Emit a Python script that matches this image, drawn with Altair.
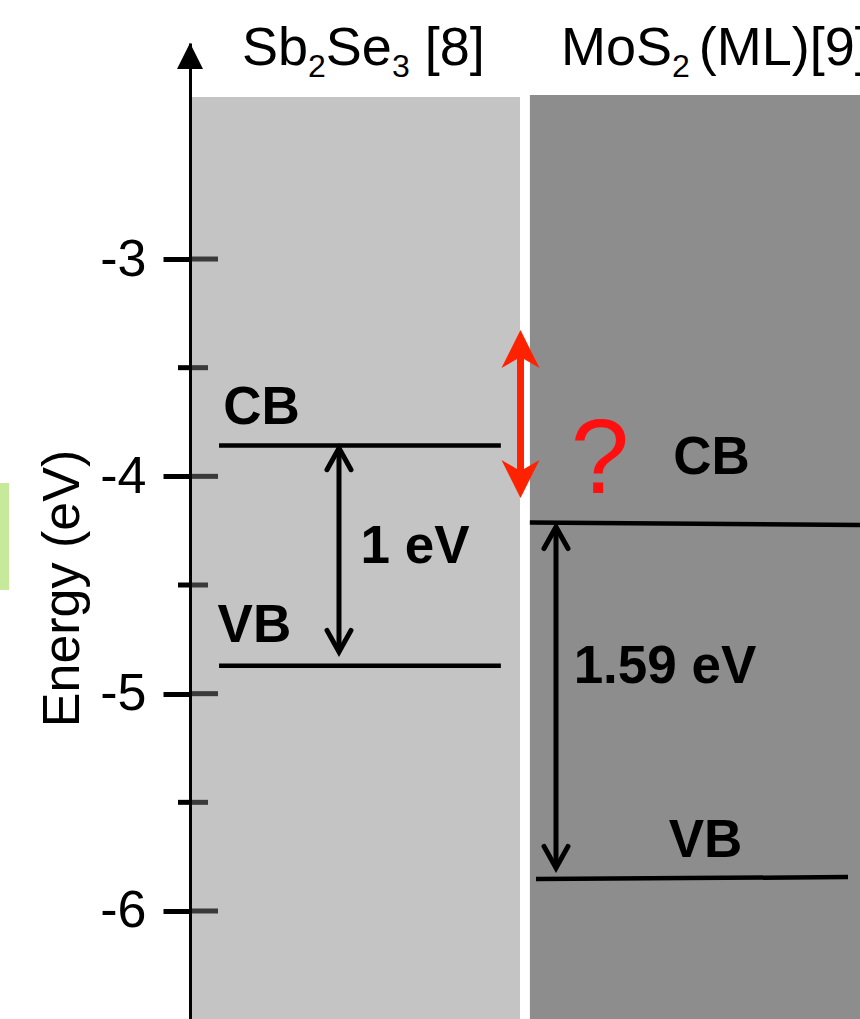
import altair as alt
import pandas as pd

# ---------------- data ----------------
panel_names = ["Sb2Se3", "MoS2"]
panel_top = [-2.255, -2.245]
panel_colors = ["#c4c4c4", "#8d8d8d"]

band_kind = ["CB", "VB", "CB", "VB"]
band_e_left = [-3.858, -4.871, -4.212, -5.853]
band_e_right = [-3.858, -4.871, -4.224, -5.844]

gap_labels = ["1 eV", "1.59 eV"]
gap_top = [-3.870, -4.233]
gap_bottom = [-4.808, -5.802]

offset_top = -3.327
offset_bottom = -4.100
question_text = "?"

major_ticks = [-3, -4, -5, -6]
minor_ticks = [-3.5, -4.5, -5.5]

highlight_top = -4.031
highlight_bottom = -4.523

title_parts = [
    [("Sb", "main"), ("2", "sub"), ("Se", "main"), ("3", "sub"), (" [8]", "main")],
    [("MoS", "main"), ("2 ", "sub"), ("(ML)[9]", "main")],
]

y_min, y_max = -6.497, -2.006

# ---------------- layout ----------------
W, H = 670, 976
PAD_L, PAD_T = 190, 43
UNIT = 330.0                      # px per panel-width unit
x_max = W / UNIT
ppe = H / (y_max - y_min)         # px per eV

panel_x0 = [0.0, 1.03]
panel_x1 = [1.0, x_max]
band_x0 = [0.088, 0.088, 1.03, 1.0485]
band_x1 = [0.942, 0.942, x_max, 1.994]
band_label_x = [0.2167, 0.195, 1.5803, 1.5621]
band_label_y = [-3.759, -4.762, -3.989, -5.752]
gap_x = [0.4515, 1.1091]
gap_label_x = [0.682, 1.4394]
gap_label_y = [-4.399, -4.951]
offset_x = 1.0015
question_x, question_y = 1.2424, -4.077
title_x0 = [0.1576, 1.1242]
title_base = {"main": -2.1074, "sub": -2.1626}
title_size = {"main": 54, "sub": 32}
highlight_x = [-190 / UNIT, -181 / UNIT]

FONT = "Liberation Sans"
RED = "#ff2200"

xscale = alt.Scale(domain=[0, x_max], nice=False, zero=False)
yscale = alt.Scale(domain=[y_min, y_max], nice=False, zero=False)
yaxis = alt.Axis(
    values=major_ticks, labelExpr="'-' + abs(datum.value)",
    labelFont=FONT, labelFontSize=52, labelColor="black", labelPadding=17,
    ticks=True, tickSize=27, tickWidth=5, tickColor="black",
    domain=True, domainColor="black", domainWidth=3, grid=False,
    title="Energy (eV)", titleFont=FONT, titleFontSize=52, titleFontWeight="normal",
    titleColor="black", titleAngle=270, titleAlign="center", titleBaseline="alphabetic",
    titleX=-112, titleY=545, zindex=1,
)

def X(f="x"):
    return alt.X(f"{f}:Q", scale=xscale, axis=None)

def Y(f="y"):
    return alt.Y(f"{f}:Q", scale=yscale, axis=yaxis, title="Energy (eV)")

# highlight strip at far left
hl = pd.DataFrame({"x": [highlight_x[0]], "x2": [highlight_x[1]],
                   "y": [highlight_top], "y2": [highlight_bottom]})
hl_layer = alt.Chart(hl).mark_rect(color="#c7e99c").encode(
    x=X(), x2="x2", y=Y(), y2="y2")

# panels
pn = pd.DataFrame({"x": panel_x0, "x2": panel_x1, "y": panel_top,
                   "y2": [y_min, y_min], "c": panel_colors, "name": panel_names})
panel_layer = alt.Chart(pn).mark_rect().encode(
    x=X(), x2="x2", y=Y(), y2="y2", color=alt.Color("c:N", scale=None))

# inner parts of ticks
tk = pd.DataFrame({
    "x": [0.0] * len(major_ticks) + [-12 / UNIT] * len(minor_ticks) + [0.0] * len(minor_ticks),
    "x2": [28 / UNIT] * len(major_ticks) + [0.0] * len(minor_ticks) + [18 / UNIT] * len(minor_ticks),
    "y": major_ticks + minor_ticks + minor_ticks,
    "c": ["#3a3a3a"] * len(major_ticks) + ["black"] * len(minor_ticks) + ["#3a3a3a"] * len(minor_ticks),
})
tick_layer = alt.Chart(tk).mark_rule(strokeWidth=5).encode(
    x=X(), x2="x2", y=Y(), color=alt.Color("c:N", scale=None))

# band edges
bd = pd.DataFrame({"x": band_x0, "x2": band_x1, "y": band_e_left, "y2": band_e_right,
                   "kind": band_kind})
band_layer = alt.Chart(bd).mark_rule(strokeWidth=4.5, color="black").encode(
    x=X(), x2="x2", y=Y(), y2="y2")

# band labels
bl = pd.DataFrame({"x": band_label_x, "y": band_label_y, "t": band_kind})
band_text = alt.Chart(bl).mark_text(font=FONT, fontWeight="bold", fontSize=53,
                                    align="center", baseline="alphabetic",
                                    color="black").encode(x=X(), y=Y(), text="t:N")

# gap arrows
ga = pd.DataFrame({"x": gap_x, "y": gap_top, "y2": gap_bottom})
gap_shaft = alt.Chart(ga).mark_rule(strokeWidth=5, color="black").encode(
    x=X(), y=Y(), y2="y2")
chev = pd.DataFrame({
    "x": gap_x + gap_x,
    "y": [v - 12 / ppe for v in gap_top] + [v + 12 / ppe for v in gap_bottom],
    "ang": [0, 0, 180, 180],
})
gap_heads = alt.Chart(chev).mark_point(
    shape="M-1,0.8L0,-1L1,0.8", size=576, filled=False, stroke="black",
    strokeWidth=5, opacity=1, strokeJoin="miter", strokeCap="round").encode(
    x=X(), y=Y(), angle=alt.Angle("ang:Q", scale=None))
gl = pd.DataFrame({"x": gap_label_x, "y": gap_label_y, "t": gap_labels})
gap_text = alt.Chart(gl).mark_text(font=FONT, fontWeight="bold", fontSize=53,
                                   align="center", baseline="alphabetic",
                                   color="black").encode(x=X(), y=Y(), text="t:N")

# red offset arrow
rs = pd.DataFrame({"x": [offset_x], "y": [offset_top - 26 / ppe],
                   "y2": [offset_bottom + 26 / ppe]})
red_shaft = alt.Chart(rs).mark_rule(strokeWidth=7, color=RED).encode(
    x=X(), y=Y(), y2="y2")
rh = pd.DataFrame({"x": [offset_x, offset_x],
                   "y": [offset_top - 19 / ppe, offset_bottom + 19 / ppe],
                   "ang": [0, 180]})
red_heads = alt.Chart(rh).mark_point(
    shape="M0,-1L1,1L0,0.42L-1,1Z", size=1444, filled=True, color=RED,
    opacity=1, strokeWidth=0).encode(x=X(), y=Y(), angle=alt.Angle("ang:Q", scale=None))
qd = pd.DataFrame({"x": [question_x], "y": [question_y], "t": [question_text]})
q_text = alt.Chart(qd).mark_text(font=FONT, fontSize=105, align="center",
                                 baseline="alphabetic", color="#ff1010").encode(
    x=X(), y=Y(), text="t:N")

# axis arrow head
ah = pd.DataFrame({"x": [0.0], "y": [y_max - 13 / ppe]})
axis_head = alt.Chart(ah).mark_point(shape="M0,-1L1,1L-1,1Z", size=676, filled=True,
                                     color="black", opacity=1).encode(x=X(), y=Y())

# titles with subscripts (pieces placed by font advance widths)
ADV = {"S": 667, "b": 556, "e": 556, "o": 556, "M": 833, "L": 556, "(": 333,
       ")": 333, "[": 278, "]": 278, " ": 278}
rows = []
for x0, parts in zip(title_x0, title_parts):
    cur = 0.0
    for txt, kind in parts:
        size = title_size[kind]
        while txt.startswith(" "):
            cur += ADV[" "] * size / 1000
            txt = txt[1:]
        rows.append({"x": x0 + cur / UNIT, "y": title_base[kind], "t": txt, "s": size})
        cur += sum(ADV.get(c, 556) for c in txt) * size / 1000
        trail = len(txt) - len(txt.rstrip(" "))
        rows[-1]["t"] = txt.rstrip(" ")
td = pd.DataFrame(rows)
title_text = alt.Chart(td).mark_text(font=FONT, align="left", baseline="alphabetic",
                                     color="black").encode(
    x=X(), y=Y(), text="t:N", size=alt.Size("s:Q", scale=None))

chart = alt.layer(
    hl_layer, panel_layer, tick_layer, band_layer, gap_shaft, gap_heads,
    red_shaft, red_heads, band_text, gap_text, q_text, title_text, axis_head,
).properties(
    width=W, height=H,
    autosize=alt.AutoSizeParams(type="none"),
    padding={"left": PAD_L, "top": PAD_T, "right": 0, "bottom": 0},
    background="white",
).configure_view(strokeWidth=0)

chart.save("out.html", embed_options={"renderer": "svg", "actions": False})
